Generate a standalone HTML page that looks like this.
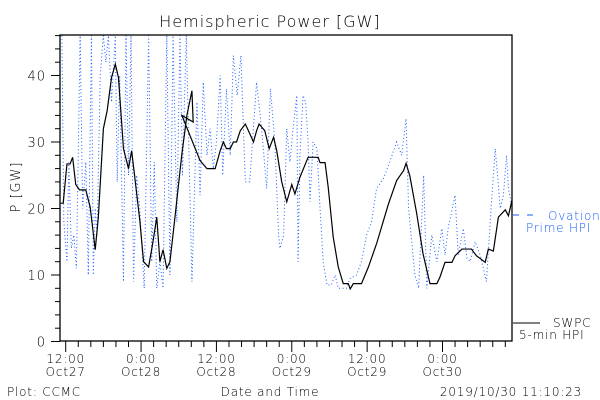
<!DOCTYPE html>
<html><head><meta charset="utf-8"><style>
body{margin:0;background:#fff}
svg{display:block;font-family:"DejaVu Sans","Liberation Sans",sans-serif}
text{font-weight:200}
</style></head><body>
<svg width="600" height="400" viewBox="0 0 600 400">
<text x="270" y="27" font-size="16" letter-spacing="1" text-anchor="middle">Hemispheric Power [GW]</text>
<text transform="translate(20,187) rotate(-90)" font-size="13" letter-spacing="1" text-anchor="middle">P [GW]</text>
<defs><clipPath id="pc"><rect x="60" y="35" width="452" height="306"/></clipPath></defs>
<g id="axes"></g>
<g id="series" clip-path="url(#pc)"></g>
<rect x="60" y="35" width="452" height="306" fill="none" stroke="#000" stroke-width="1.3"/>
<text x="7" y="396" font-size="12" letter-spacing="0.8">Plot: CCMC</text>
<text x="270" y="396" font-size="12" letter-spacing="0.8" text-anchor="middle">Date and Time</text>
<text x="582" y="396" font-size="12" letter-spacing="0.8" text-anchor="end">2019/10/30 11:10:23</text>
<g>
<line x1="513" y1="215" x2="541" y2="215" stroke="#1a5cff" stroke-dasharray="6,8"/>
<text x="548" y="220" font-size="12" letter-spacing="0.8" fill="#1a5cff">Ovation</text>
<text x="526" y="232" font-size="12" letter-spacing="0.8" fill="#1a5cff">Prime HPI</text>
</g>
<g>
<line x1="513" y1="323" x2="540" y2="323" stroke="#000"/>
<text x="553" y="327" font-size="12" letter-spacing="0.8">SWPC</text>
<text x="519" y="339" font-size="12" letter-spacing="0.8">5-min HPI</text>
</g>
</svg>
<script>
const yTicks=[0,10,20,30,40];
const xTickHours=[12,24,36,48,60,72];
const xTickTop=["12:00","0:00","12:00","0:00","12:00","0:00"];
const xTickBottom=["Oct27","Oct28","Oct28","Oct29","Oct29","Oct30"];
const swpcHours=[11.2,11.6,12.2,12.7,13.1,13.6,14.2,15.2,15.9,16.7,17.2,18.0,18.6,19.3,19.9,20.4,21.2,22.0,22.5,23.0,23.8,24.4,25.2,25.9,26.5,27.0,27.5,28.1,28.6,29.4,30.5,31.3,32.1,32.3,30.5,33.4,34.5,35.8,36.6,37.1,37.6,38.2,38.7,39.2,39.8,40.6,41.1,41.9,42.4,42.8,43.7,44.4,45.1,45.6,46.4,47.2,48.0,48.5,49.3,50.6,52.2,52.5,53.3,53.8,54.6,55.4,56.2,57.0,57.3,57.8,59.1,60.2,61.5,63.4,64.7,65.8,66.2,66.8,67.9,68.9,70.0,71.1,71.6,72.4,73.5,74.0,75.1,76.6,77.4,78.8,79.3,80.1,80.9,82.0,82.5,83.1];
const swpcValues=[20.8,20.8,26.7,26.7,27.7,23.6,22.8,22.8,20.2,13.8,18.7,32,34.7,39.7,41.7,39.7,29,26,28.7,24.7,18.2,12,11.2,15,18.7,12,13.8,11,12,18.7,28.2,34,37.7,33,34,27.2,26,26,28.7,30,29,29,30,30,31.7,32.7,31.7,30,31.7,32.7,31.7,29,30.7,28.7,24,21,23.6,22.2,24.7,27.7,27.7,26.9,26.9,23.2,15.7,11.2,8.7,8.7,7.9,8.7,8.7,11.2,14.7,20.7,24.2,25.7,26.8,24.9,19.2,13.2,8.7,8.7,9.7,11.9,11.9,12.9,13.9,13.9,12.9,11.9,13.9,13.6,18.7,19.8,18.9,21.4];
const ovationHours=[11.4,11.7,12.2,12.5,12.9,13.3,13.7,14.3,14.7,15.2,15.6,16.1,16.4,16.7,17.0,17.5,18.0,18.4,18.8,19.3,19.9,20.2,20.6,21.2,21.6,22.0,22.4,22.8,23.3,23.8,24.5,25.2,25.7,26.1,26.5,27.0,27.5,28.1,28.6,29.1,29.7,30.2,30.6,31.2,32.1,32.9,33.4,33.9,34.5,35.0,35.5,36.0,36.6,37.0,37.6,38.2,38.7,39.3,39.9,40.6,41.3,42.4,43.2,44.0,44.6,45.3,45.9,46.1,46.7,47.2,47.7,48.2,48.8,49.0,49.3,49.8,50.2,50.6,50.9,51.4,52.0,52.5,53.0,53.6,54.3,54.9,55.4,56.7,57.3,58.3,59.1,59.9,60.7,61.5,62.6,63.6,64.7,65.5,66.2,66.6,67.1,67.6,68.2,69.0,69.5,70.3,71.1,71.9,72.4,72.9,74.0,74.5,75.3,75.9,76.4,77.2,78.0,79.0,79.8,80.4,81.2,81.7,82.2,82.5,83.1];
const ovationValues=[46,18,12,27,14,16,11,46,20,27,10,46,10,20,16,40,46,42,46,36,46,24,40,9,46,25,46,9,25,20,8,46,12,27,8,12,8,46,10,46,18,46,25,46,9,36,22,39,28,32,26,30,40,25,38,28,43,37,43,24,24,39,32,23,38,30,16,14,16,32,27,32,37,12,28,37,36,30,21,30,29,20,12,8.5,8.5,10,8,8,9.5,10,12,16,18,23,24.5,27,30,28,33.5,20,15,10,8,25,8,16,12,17,13,17,22,13,17,12.5,12,15,13,9,21,29,20,22,28,23,20];

const X0=65.7, HOUR=6.28, Y0=341.5, UNIT=6.65;
function xs(h){return X0+(h-12)*HOUR;}
function ys(v){return Y0-v*UNIT;}
const NS="http://www.w3.org/2000/svg";
const axes=document.getElementById('axes'), series=document.getElementById('series');
function mk(tag,attrs,parent){const e=document.createElementNS(NS,tag);for(const k in attrs)e.setAttribute(k,attrs[k]);parent.appendChild(e);return e;}
for(let v=0;v<=46;v+=2){
  const major=yTicks.includes(v);
  const t=mk('line',{x1:60,x2:major?51:55,y1:ys(v),y2:ys(v),stroke:'#000'},axes);
  
  
}
yTicks.forEach(v=>{
  const t=mk('text',{x:46,y:ys(v)+5,'font-size':13,'letter-spacing':1,'text-anchor':'end'},axes);
  t.textContent=v;
  
  
});
for(let h=12;h<=83;h+=2){
  const major=xTickHours.includes(h);
  const t=mk('line',{x1:xs(h),x2:xs(h),y1:341,y2:major?352:347,stroke:'#000'},axes);
  
  
}
xTickHours.forEach((h,i)=>{
  const a=mk('text',{x:xs(h),y:363,'font-size':12,'letter-spacing':0.8,'text-anchor':'middle'},axes);
  a.textContent=xTickTop[i];
  
  
  const b=mk('text',{x:xs(h),y:376,'font-size':12,'letter-spacing':0.8,'text-anchor':'middle'},axes);
  b.textContent=xTickBottom[i];
  
  
});
const op=mk('polyline',{points:ovationHours.map((h,i)=>xs(h)+','+ys(ovationValues[i])).join(' '),fill:'none',stroke:'#1a5cff','stroke-width':1,'stroke-dasharray':'1,2.5'},series);


const sp=mk('polyline',{points:swpcHours.map((h,i)=>xs(h)+','+ys(swpcValues[i])).join(' '),fill:'none',stroke:'#000','stroke-width':1.2,'stroke-linejoin':'miter'},series);


</script>
</body></html>
